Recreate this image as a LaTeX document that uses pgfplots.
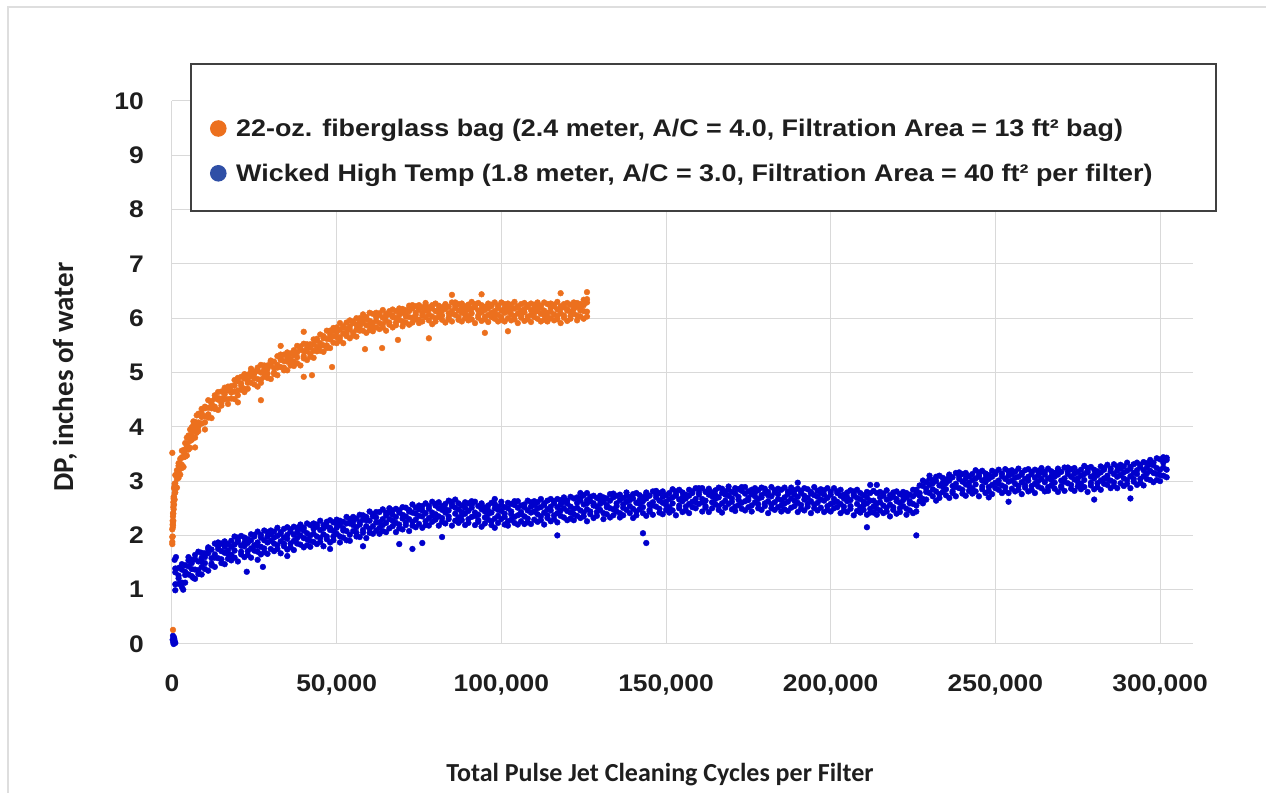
\documentclass[border=0pt]{standalone}
\usepackage{pgfplots}
\pgfplotsset{compat=1.18}
\usepackage{pgfplotstable}
\usepackage{fontspec}
\setmainfont{Liberation Sans}
\newfontfamily\tickfont[FakeStretch=1.1]{Liberation Sans}
\newfontfamily\legfont[FakeStretch=1.12]{Liberation Sans}
\newfontfamily\calfont{Carlito}

\definecolor{orangeP}{RGB}{236,112,30}
\definecolor{blueP}{RGB}{0,0,204}
\definecolor{blueL}{RGB}{47,79,166}
\definecolor{gridgray}{RGB}{217,217,217}
\definecolor{framegray}{RGB}{222,222,222}
\definecolor{boxgray}{RGB}{64,64,64}
\definecolor{txt}{RGB}{30,30,30}

% Wicked High Temp: x in thousands of cycles, four readings per x
\pgfplotstableread{
x a b c d
1 1.32 1.10 1.39 0.99
2 1.26 1.11 1.40 1.21
3 1.05 1.37 1.47 1.13
4 1.33 1.45 1.27 1.13
5 1.54 1.43 1.28 1.60
6 1.25 1.49 1.38 1.55
7 1.20 1.56 1.64 1.37
8 1.36 1.52 1.70 1.29
9 1.59 1.52 1.68 1.42
10 1.38 1.67 1.60 1.49
11 1.78 1.35 1.67 1.75
12 1.48 1.58 1.74 1.45
13 1.65 1.85 1.59 1.42
14 1.75 1.80 1.58 1.87
15 1.49 1.71 1.56 1.85
16 1.68 1.47 1.79 1.89
17 1.57 1.72 1.84 1.66
18 1.54 1.90 1.79 1.64
19 1.98 1.59 1.83 1.72
20 1.91 1.52 1.88 1.96
21 1.70 1.65 1.81 1.99
22 1.60 1.87 1.80 1.96
23 1.71 1.64 1.93 1.86
24 1.76 2.02 1.59 1.91
25 2.01 1.72 1.82 1.98
26 1.70 1.87 2.07 1.81
27 1.65 1.96 2.01 1.79
28 2.09 1.69 1.91 1.76
29 2.06 1.87 1.66 1.98
30 2.09 1.75 1.90 2.02
31 1.85 1.71 2.07 1.96
32 1.82 2.14 1.75 1.99
33 1.89 2.06 1.67 2.03
34 2.12 1.85 1.80 1.96
35 2.15 1.74 2.01 1.94
36 2.11 1.85 1.78 2.07
37 2.01 1.90 2.16 1.73
38 2.06 2.14 1.85 1.95
39 2.12 1.83 2.00 2.20
40 1.95 1.78 2.09 2.14
41 1.93 2.22 1.82 2.04
42 1.90 2.19 2.00 1.79
43 2.12 2.22 1.88 2.03
44 2.16 1.98 1.84 2.20
45 2.10 1.95 2.27 1.88
46 2.13 2.02 2.19 1.80
47 2.17 2.25 1.98 1.93
48 2.10 2.28 1.87 2.14
49 2.08 2.24 1.98 1.91
50 2.21 2.14 2.03 2.29
51 1.87 2.19 2.27 1.98
52 2.09 2.25 1.96 2.13
53 2.34 2.08 1.91 2.22
54 1.90 2.22 2.30 2.01
55 2.26 2.19 2.08 2.34
56 2.15 2.31 2.05 1.98
57 2.20 2.38 1.97 2.24
58 2.29 2.37 2.10 2.05
59 2.28 2.17 2.34 1.95
60 2.27 2.12 2.44 2.05
61 2.35 2.17 2.03 2.39
62 2.33 2.43 2.09 2.24
63 2.14 2.43 2.24 2.03
64 2.19 2.48 2.08 2.30
65 2.23 2.06 2.37 2.42
66 2.42 2.13 2.30 2.50
67 2.38 2.46 2.17 2.27
68 2.34 2.23 2.49 2.06
69 2.46 2.20 2.13 2.42
70 2.52 2.11 2.38 2.31
71 2.51 2.24 2.19 2.35
72 2.30 2.47 2.08 2.44
73 2.25 2.57 2.18 2.42
74 2.29 2.15 2.51 2.40
75 2.55 2.21 2.36 2.48
76 2.54 2.35 2.14 2.46
77 2.59 2.19 2.41 2.26
78 2.18 2.49 2.54 2.32
79 2.25 2.42 2.62 2.36
80 2.58 2.29 2.39 2.55
81 2.35 2.61 2.18 2.50
82 2.32 2.25 2.54 2.47
83 2.22 2.49 2.42 2.58
84 2.35 2.30 2.46 2.64
85 2.57 2.18 2.54 2.62
86 2.66 2.27 2.51 2.40
87 2.23 2.59 2.48 2.33
88 2.28 2.43 2.55 2.37
89 2.40 2.19 2.51 2.61
90 2.23 2.45 2.30 2.59
91 2.51 2.56 2.34 2.63
92 2.42 2.62 2.36 2.19
93 2.28 2.38 2.54 2.25
94 2.59 2.16 2.48 2.56
95 2.22 2.51 2.44 2.33
96 2.46 2.39 2.55 2.29
97 2.26 2.42 2.60 2.19
98 2.14 2.50 2.58 2.31
99 2.23 2.47 2.36 2.53
100 2.56 2.45 2.30 2.62
101 2.40 2.52 2.34 2.20
102 2.18 2.50 2.60 2.26
103 2.44 2.29 2.58 2.39
104 2.56 2.34 2.63 2.23
105 2.63 2.37 2.20 2.51
106 2.39 2.55 2.26 2.43
107 2.21 2.52 2.57 2.35
108 2.64 2.24 2.46 2.31
109 2.61 2.42 2.21 2.53
110 2.63 2.29 2.44 2.56
111 2.39 2.25 2.61 2.50
112 2.35 2.67 2.28 2.52
113 2.42 2.59 2.20 2.56
114 2.64 2.37 2.32 2.48
115 2.67 2.26 2.53 2.46
116 2.63 2.37 2.30 2.59
117 2.52 2.41 2.67 2.24
118 2.57 2.65 2.36 2.46
119 2.62 2.33 2.50 2.70
120 2.45 2.28 2.59 2.64
121 2.42 2.71 2.31 2.53
122 2.39 2.68 2.49 2.28
123 2.60 2.70 2.36 2.51
124 2.64 2.46 2.32 2.68
125 2.57 2.42 2.74 2.35
126 2.59 2.48 2.65 2.26
127 2.63 2.71 2.44 2.39
128 2.55 2.73 2.32 2.59
129 2.53 2.69 2.43 2.36
130 2.65 2.58 2.47 2.73
131 2.30 2.62 2.70 2.41
132 2.52 2.68 2.39 2.56
133 2.76 2.50 2.33 2.64
134 2.70 2.48 2.77 2.37
135 2.59 2.44 2.73 2.54
136 2.33 2.65 2.75 2.41
137 2.57 2.69 2.51 2.37
138 2.73 2.62 2.47 2.79
139 2.41 2.65 2.54 2.71
140 2.32 2.68 2.76 2.49
141 2.44 2.60 2.78 2.37
142 2.65 2.58 2.74 2.48
143 2.41 2.70 2.63 2.52
144 2.79 2.36 2.68 2.76
145 2.47 2.57 2.73 2.44
146 2.61 2.81 2.55 2.38
147 2.70 2.75 2.53 2.82
148 2.42 2.64 2.49 2.78
149 2.60 2.39 2.71 2.81
150 2.47 2.62 2.74 2.56
151 2.42 2.78 2.67 2.52
152 2.85 2.46 2.70 2.59
153 2.76 2.37 2.73 2.81
154 2.55 2.50 2.66 2.84
155 2.43 2.70 2.63 2.79
156 2.53 2.46 2.75 2.68
157 2.58 2.84 2.41 2.73
158 2.81 2.52 2.62 2.78
159 2.50 2.67 2.87 2.61
160 2.75 2.80 2.58 2.87
161 2.67 2.87 2.61 2.44
162 2.54 2.64 2.80 2.51
163 2.86 2.43 2.75 2.83
164 2.50 2.79 2.72 2.61
165 2.74 2.67 2.83 2.57
166 2.54 2.70 2.88 2.47
167 2.42 2.78 2.86 2.59
168 2.51 2.75 2.64 2.81
169 2.84 2.73 2.58 2.90
170 2.68 2.80 2.62 2.48
171 2.45 2.77 2.87 2.53
172 2.71 2.56 2.85 2.66
173 2.82 2.60 2.89 2.49
174 2.89 2.63 2.46 2.77
175 2.65 2.81 2.52 2.69
176 2.44 2.76 2.84 2.55
177 2.79 2.72 2.61 2.87
178 2.67 2.83 2.57 2.50
179 2.70 2.88 2.47 2.74
180 2.78 2.86 2.59 2.54
181 2.74 2.63 2.80 2.41
182 2.72 2.57 2.89 2.50
183 2.79 2.61 2.47 2.83
184 2.76 2.86 2.52 2.67
185 2.55 2.84 2.65 2.44
186 2.59 2.88 2.48 2.70
187 2.62 2.45 2.76 2.81
188 2.80 2.51 2.68 2.88
189 2.75 2.83 2.54 2.64
190 2.71 2.60 2.86 2.43
191 2.82 2.56 2.49 2.78
192 2.87 2.46 2.73 2.66
193 2.85 2.58 2.53 2.69
194 2.63 2.80 2.41 2.77
195 2.57 2.89 2.50 2.74
196 2.60 2.46 2.82 2.71
197 2.85 2.51 2.66 2.78
198 2.83 2.64 2.43 2.75
199 2.87 2.47 2.69 2.54
200 2.44 2.75 2.80 2.58
201 2.50 2.67 2.87 2.61
202 2.81 2.52 2.62 2.78
203 2.58 2.84 2.41 2.73
204 2.53 2.46 2.75 2.68
205 2.43 2.70 2.63 2.79
206 2.54 2.49 2.65 2.83
207 2.76 2.37 2.73 2.81
208 2.84 2.45 2.69 2.58
209 2.42 2.78 2.67 2.52
210 2.47 2.62 2.74 2.56
211 2.59 2.38 2.70 2.80
212 2.42 2.64 2.49 2.78
213 2.53 2.82 2.42 2.64
214 2.49 2.78 2.59 2.38
215 2.70 2.80 2.46 2.61
216 2.73 2.55 2.41 2.77
217 2.66 2.51 2.83 2.44
218 2.68 2.57 2.74 2.35
219 2.71 2.79 2.52 2.47
220 2.63 2.81 2.40 2.67
221 2.60 2.76 2.50 2.43
222 2.72 2.65 2.54 2.80
223 2.38 2.70 2.78 2.49
224 2.59 2.75 2.46 2.63
225 2.84 2.58 2.41 2.72
226 2.77 2.55 2.84 2.44
227 2.78 2.63 2.92 2.73
228 2.59 2.91 3.01 2.67
229 2.86 2.98 2.80 2.66
230 3.04 2.93 2.78 3.10
231 2.72 2.96 2.85 3.02
232 2.64 3.00 3.08 2.81
233 2.76 2.92 3.10 2.69
234 2.97 2.90 3.06 2.80
235 2.74 3.03 2.96 2.85
236 3.12 2.69 3.01 3.09
237 2.81 2.91 3.07 2.78
238 2.95 3.15 2.89 2.72
239 3.04 3.09 2.87 3.16
240 2.77 2.99 2.84 3.13
241 2.94 2.73 3.05 3.15
242 2.82 2.97 3.09 2.91
243 2.77 3.13 3.02 2.87
244 3.20 2.81 3.05 2.94
245 3.11 2.72 3.08 3.16
246 2.90 2.85 3.01 3.19
247 2.78 3.05 2.98 3.14
248 2.89 2.82 3.11 3.04
249 2.93 3.19 2.76 3.08
250 3.16 2.87 2.97 3.13
251 2.84 3.01 3.21 2.95
252 2.78 3.09 3.14 2.92
253 3.22 2.82 3.04 2.89
254 3.18 2.99 2.78 3.10
255 3.20 2.86 3.01 3.13
256 2.95 2.81 3.17 3.06
257 2.91 3.23 2.84 3.08
258 2.98 3.15 2.76 3.12
259 3.20 2.93 2.88 3.04
260 3.22 2.81 3.08 3.01
261 3.17 2.91 2.84 3.13
262 3.06 2.95 3.21 2.78
263 3.11 3.19 2.90 3.00
264 3.16 2.87 3.04 3.24
265 2.98 2.81 3.12 3.17
266 2.89 3.05 3.23 2.82
267 3.09 3.02 3.18 2.92
268 2.86 3.15 3.08 2.97
269 3.23 2.80 3.12 3.20
270 2.91 3.01 3.17 2.88
271 3.05 3.25 2.99 2.82
272 3.13 3.18 2.96 3.25
273 2.86 3.08 2.93 3.22
274 3.03 2.82 3.14 3.24
275 2.90 3.05 3.17 2.99
276 2.85 3.21 3.10 2.95
277 3.28 2.89 3.13 3.02
278 3.19 2.80 3.16 3.24
279 2.97 2.92 3.08 3.26
280 2.85 3.12 3.05 3.21
281 2.96 2.89 3.18 3.11
282 3.01 3.27 2.84 3.16
283 3.24 2.95 3.05 3.21
284 2.93 3.10 3.30 3.04
285 2.87 3.18 3.23 3.01
286 3.31 2.91 3.13 2.98
287 3.27 3.08 2.87 3.19
288 3.30 2.96 3.11 3.23
289 3.05 2.91 3.27 3.16
290 3.02 3.34 2.95 3.19
291 3.09 3.26 2.87 3.23
292 3.31 3.04 2.99 3.15
293 3.34 2.93 3.20 3.13
294 3.30 3.04 2.97 3.26
295 3.20 3.09 3.35 2.92
296 3.25 3.33 3.04 3.14
297 3.31 3.02 3.19 3.39
298 3.15 2.98 3.29 3.34
299 3.13 3.42 3.02 3.24
300 3.11 3.40 3.21 3.00
301 3.34 3.44 3.10 3.25
302 3.39 3.21 3.07 3.43
}\wickeddata

% 22-oz. fiberglass bag
\pgfplotstableread{
x a b c d
0.1 1.88 1.84 1.97 2.11
0.2 1.98 2.20 2.14 2.27
0.3 2.23 2.18 2.41 2.35
0.4 2.40 2.61 2.27 2.52
0.5 2.71 2.48 2.56 2.68
0.6 2.57 2.71 2.87 2.66
0.8 2.66 2.91 2.95 2.78
1 3.11 2.79 2.96 2.84
1.5 3.20 3.04 2.88 3.13
2 3.33 3.06 3.18 3.28
2.5 3.23 3.12 3.41 3.32
3 3.30 3.56 3.24 3.44
3.5 3.44 3.57 3.26 3.55
4 3.70 3.49 3.45 3.58
4.5 3.80 3.47 3.69 3.63
5 3.84 3.63 3.58 3.81
5.5 3.83 3.74 3.95 3.61
6 3.92 3.99 3.76 3.84
6.5 4.03 3.80 3.94 4.10
7 3.94 3.80 4.05 4.09
7.5 3.98 4.21 3.89 4.06
8 4.00 4.24 4.08 3.92
9 4.25 4.33 4.06 4.18
10 4.34 4.19 4.08 4.37
11 4.35 4.23 4.49 4.17
12 4.43 4.34 4.47 4.16
13 4.52 4.58 4.37 4.33
14 4.50 4.64 4.31 4.53
15 4.52 4.65 4.44 4.39
16 4.66 4.60 4.51 4.72
17 4.42 4.67 4.74 4.51
18 4.63 4.75 4.52 4.66
19 4.86 4.65 4.51 4.76
20 4.84 4.67 4.90 4.58
21 4.80 4.68 4.92 4.76
22 4.64 4.89 4.97 4.70
23 4.86 4.96 4.81 4.70
24 5.02 4.93 4.81 5.07
25 4.78 4.98 4.89 5.02
26 4.74 5.03 5.09 4.88
27 4.87 5.00 5.14 4.81
28 5.06 5.00 5.13 4.92
29 4.90 5.13 5.07 4.98
30 5.22 4.88 5.13 5.20
31 5.00 5.08 5.20 4.97
32 5.14 5.30 5.09 4.95
33 5.23 5.27 5.10 5.33
34 5.04 5.21 5.09 5.33
35 5.20 5.04 5.29 5.37
36 5.13 5.25 5.35 5.20
37 5.12 5.41 5.32 5.20
38 5.49 5.17 5.37 5.28
39 5.44 5.13 5.42 5.48
40 5.30 5.26 5.39 5.53
41 5.23 5.45 5.39 5.52
42 5.34 5.29 5.52 5.46
43 5.40 5.61 5.27 5.52
44 5.62 5.39 5.47 5.59
45 5.40 5.54 5.70 5.49
46 5.38 5.63 5.67 5.50
47 5.77 5.45 5.62 5.50
48 5.77 5.61 5.45 5.70
49 5.82 5.55 5.67 5.77
50 5.65 5.54 5.83 5.74
51 5.65 5.91 5.59 5.79
52 5.72 5.85 5.54 5.83
53 5.92 5.71 5.67 5.80
54 5.96 5.63 5.85 5.79
55 5.94 5.73 5.68 5.91
56 5.88 5.79 6.00 5.66
57 5.93 6.00 5.77 5.85
58 6.00 5.77 5.91 6.07
59 5.87 5.73 5.98 6.02
60 5.87 6.10 5.78 5.95
61 5.84 6.08 5.92 5.76
62 6.02 6.10 5.83 5.95
63 6.06 5.91 5.80 6.09
64 6.01 5.89 6.15 5.83
65 6.04 5.95 6.08 5.77
66 6.07 6.13 5.92 5.88
67 6.02 6.16 5.83 6.05
68 6.00 6.13 5.92 5.87
69 6.12 6.06 5.97 6.18
70 5.85 6.10 6.17 5.94
71 6.03 6.15 5.92 6.06
72 6.23 6.02 5.88 6.13
73 6.18 6.01 6.24 5.92
74 6.10 5.98 6.22 6.06
75 5.91 6.16 6.24 5.97
76 6.10 6.20 6.05 5.94
77 6.23 6.14 6.02 6.28
78 5.96 6.16 6.07 6.20
79 5.89 6.18 6.24 6.03
80 6.00 6.13 6.27 5.94
81 6.16 6.10 6.23 6.02
82 5.97 6.20 6.14 6.05
83 6.26 5.92 6.17 6.24
84 6.01 6.09 6.21 5.98
85 6.13 6.29 6.08 5.94
86 6.19 6.23 6.06 6.29
87 5.97 6.14 6.02 6.26
88 6.10 5.94 6.19 6.27
89 6.00 6.12 6.22 6.07
90 5.96 6.25 6.16 6.04
91 6.30 5.98 6.18 6.09
92 6.22 5.91 6.20 6.26
93 6.05 6.01 6.14 6.28
94 5.95 6.17 6.11 6.24
95 6.03 5.98 6.21 6.15
96 6.06 6.27 5.93 6.18
97 6.25 6.02 6.10 6.22
98 5.99 6.13 6.29 6.08
99 5.94 6.19 6.23 6.06
100 6.29 5.97 6.14 6.02
101 6.26 6.10 5.94 6.19
102 6.27 6.00 6.12 6.22
103 6.07 5.96 6.25 6.16
104 6.04 6.30 5.98 6.18
105 6.09 6.22 5.91 6.20
106 6.26 6.05 6.01 6.14
107 6.28 5.95 6.17 6.11
108 6.24 6.03 5.98 6.21
109 6.15 6.06 6.27 5.93
110 6.18 6.25 6.02 6.10
111 6.22 5.99 6.13 6.29
112 6.08 5.94 6.19 6.23
113 6.06 6.29 5.97 6.14
114 6.02 6.26 6.10 5.94
115 6.19 6.27 6.00 6.12
116 6.22 6.07 5.96 6.25
117 6.16 6.04 6.30 5.98
118 6.18 6.09 6.22 5.91
119 6.20 6.26 6.05 6.01
120 6.14 6.28 5.95 6.17
121 6.12 6.25 6.04 5.99
122 6.23 6.17 6.08 6.29
123 5.96 6.21 6.28 6.05
124 6.14 6.26 6.03 6.17
125 6.34 6.13 5.99 6.24
126 6.29 6.12 6.35 6.03
}\fiberdata

\begin{document}
\begin{tikzpicture}[x=1bp,y=1bp]
\useasboundingbox (-172,-149) rectangle (1094,644);
\begin{axis}[
  at={(0,0)}, anchor=south west,
  scale only axis, width=1021bp, height=543bp,
  xmin=0, xmax=310, ymin=0, ymax=10,
  axis line style={draw=none},
  major tick length=0pt,
  grid=major,
  grid style={color=gridgray, line width=1bp},
  xtick={0,50,100,150,200,250,300},
  xticklabels={0,{50,000},{100,000},{150,000},{200,000},{250,000},{300,000}},
  ytick={0,1,2,3,4,5,6,7,8,9,10},
  yticklabels={0,1,2,3,4,5,6,7,8,9,10},
  ticklabel style={font=\tickfont\bfseries\fontsize{24bp}{28bp}\selectfont, text=txt, inner sep=0pt},
  yticklabel style={anchor=east, xshift=-28bp},
  xticklabel style={anchor=north, yshift=-31bp},
  clip=false,
]
\pgfplotsinvokeforeach{a,b,c,d}{
  \addplot[only marks, mark=*, mark size=2.9bp, color=blueP] table[x=x, y=#1] {\wickeddata};
}
\addplot[only marks, mark=*, mark size=2.9bp, color=blueP] coordinates {
  (0.2,0.08) (0.4,0.03) (0.6,0.12) (0.8,0.05) (0.3,0.15) (1.0,0.02) (0.5,0.0) (0.7,0.09)
  (0.8,1.55) (1.2,1.60) (3.4,1.00) (6.4,1.22) (9.0,1.28) (22.7,1.33) (27.6,1.42)
  (26,1.55) (35,1.62) (48,1.75) (58,1.80) (69,1.84) (73,1.75) (76,1.86) (82,1.97)
  (98,2.67) (117,2.00) (124,2.78) (126,2.78) (143,2.04) (144,1.86) (190,2.97)
  (211,2.15) (212,2.93) (214,2.93) (226,2.00) (248,2.70) (254,2.62) (280,2.66) (291,2.68)
};
\pgfplotsinvokeforeach{a,b,c,d}{
  \addplot[only marks, mark=*, mark size=2.9bp, color=orangeP] table[x=x, y=#1] {\fiberdata};
}
\addplot[only marks, mark=*, mark size=2.9bp, color=orangeP] coordinates {
  (0.1,3.52) (0.3,0.26) (7,3.62) (10,3.95) (20,4.45) (27,4.49) (33,5.49) (40,5.75)
  (40,4.92) (42.5,4.95) (48.6,5.10) (58.6,5.43) (63.8,5.45) (68.6,5.60) (78,5.63)
  (85,6.43) (94,6.44) (95,5.73) (102,5.76) (118,6.46) (126,6.48)
};
\end{axis}
% outer frame
\draw[framegray, line width=1.2bp] (-164,-149) -- (-164,637) -- (1094,637);
% axis titles
\node[rotate=90, font=\calfont\bfseries\fontsize{29bp}{33bp}\selectfont, text=txt] at (-107,267) {DP, inches of water};
\node[font=\calfont\bfseries\fontsize{26bp}{30bp}\selectfont, text=txt] at (488,-131) {Total Pulse Jet Cleaning Cycles per Filter};
% legend
\draw[boxgray, line width=1.5bp, fill=white] (19,433) rectangle (1044,580);
\fill[orangeP] (46.3,515.5) circle (8.3);
\fill[blueL] (46.3,470.7) circle (8.3);
\node[anchor=base west, inner sep=0pt, font=\legfont\bfseries\fontsize{24bp}{28bp}\selectfont, text=txt] at (64,507) {22-oz. fiberglass bag (2.4 meter, A/C = 4.0, Filtration Area = 13 ft² bag)};
\node[anchor=base west, inner sep=0pt, font=\legfont\bfseries\fontsize{24bp}{28bp}\selectfont, text=txt] at (64,462) {Wicked High Temp (1.8 meter, A/C = 3.0, Filtration Area = 40 ft² per filter)};
\end{tikzpicture}
\end{document}
